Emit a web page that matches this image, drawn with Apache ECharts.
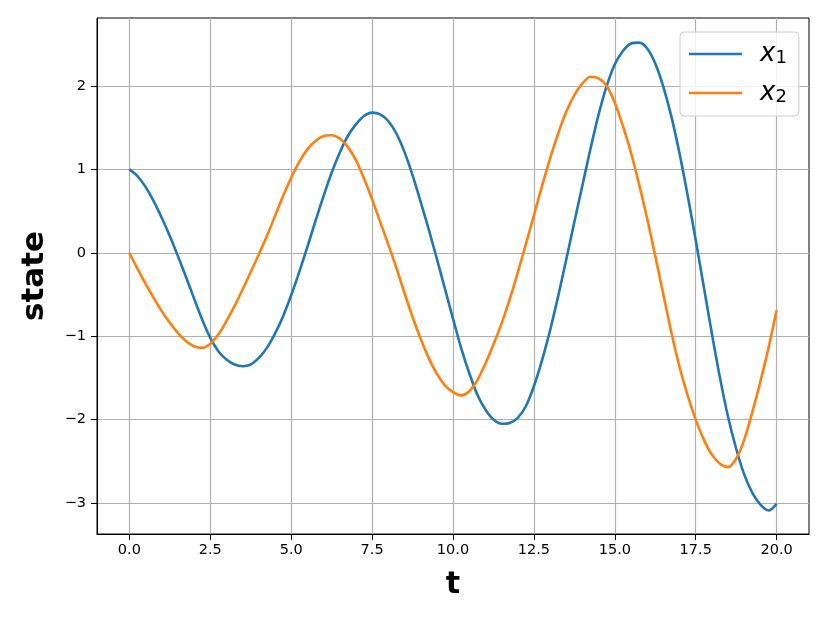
<!DOCTYPE html>
<html>
<head>
<meta charset="utf-8">
<script src="https://cdn.jsdelivr.net/npm/echarts@6/dist/echarts.min.js"></script>
<style>
html,body{margin:0;padding:0;background:#fff;}
#chart{width:830px;height:623px;}
</style>
</head>
<body>
<div id="chart"></div>
<script>
// time samples
const t = [0,0.25,0.5,0.75,1,1.25,1.5,1.75,2,2.25,2.5,2.75,3,3.25,3.5,3.75,4,4.25,4.5,4.75,
5,5.25,5.5,5.75,6,6.25,6.5,6.75,7,7.25,7.5,7.75,8,8.25,8.5,8.75,9,9.25,9.5,9.75,
10,10.25,10.5,10.75,11,11.25,11.5,11.75,12,12.25,12.5,12.75,13,13.25,13.5,13.75,14,14.25,14.5,14.75,
15,15.25,15.5,15.75,16,16.25,16.5,16.75,17,17.25,17.5,17.75,18,18.25,18.5,18.75,19,19.25,19.5,19.75,20];

// state x1 (blue)
const x1 = [1.00,0.92,0.79,0.62,0.42,0.20,-0.04,-0.29,-0.55,-0.80,-1.02,-1.18,-1.28,-1.34,-1.36,-1.34,-1.26,-1.14,-0.97,-0.76,
-0.51,-0.23,0.07,0.38,0.68,0.96,1.20,1.40,1.54,1.64,1.68,1.66,1.58,1.43,1.21,0.93,0.61,0.28,-0.07,-0.43,
-0.79,-1.14,-1.44,-1.70,-1.88,-2.00,-2.05,-2.04,-1.98,-1.84,-1.60,-1.29,-0.93,-0.52,-0.08,0.37,0.81,1.25,1.66,2.00,
2.26,2.42,2.51,2.52,2.45,2.27,1.99,1.63,1.19,0.69,0.15,-0.41,-0.97,-1.50,-1.97,-2.35,-2.66,-2.88,-3.02,-3.09,-3.01];

// state x2 (orange)
const x2 = [0.00,-0.19,-0.37,-0.54,-0.70,-0.84,-0.96,-1.06,-1.12,-1.14,-1.09,-0.98,-0.82,-0.64,-0.44,-0.23,-0.02,0.20,0.44,0.68,
0.90,1.09,1.24,1.34,1.40,1.41,1.37,1.27,1.11,0.89,0.64,0.37,0.10,-0.18,-0.48,-0.77,-1.03,-1.26,-1.45,-1.59,
-1.67,-1.71,-1.66,-1.53,-1.33,-1.10,-0.85,-0.56,-0.24,0.10,0.45,0.80,1.13,1.43,1.69,1.89,2.03,2.11,2.09,2.00,
1.80,1.52,1.20,0.82,0.41,-0.04,-0.50,-0.96,-1.37,-1.71,-2.00,-2.24,-2.42,-2.53,-2.57,-2.47,-2.24,-1.91,-1.54,-1.14,-0.69];

const xTicks = [0,2.5,5,7.5,10,12.5,15,17.5,20];
const yTicks = [-3,-2,-1,0,1,2];
const seriesNames = ['x\u2081','x\u2082'];
const xLabel = 't';
const yLabel = 'state';

const FONT = 'DejaVu Sans';
const chart = echarts.init(document.getElementById('chart'), null, {renderer:'canvas'});
const fmtY = v => v < 0 ? '\u2212' + Math.abs(v) : String(v);

chart.setOption({
  animation: false,
  backgroundColor: '#fff',
  grid: {left: 97, top: 18, width: 712, height: 516, show: true, borderColor: '#000', borderWidth: 1, backgroundColor: 'transparent'},
  xAxis: {
    type: 'value', min: -1, max: 21,
    name: xLabel, nameLocation: 'middle', nameGap: 36,
    nameTextStyle: {fontFamily: FONT, fontWeight: 'bold', fontSize: 30, color: '#000'},
    axisLine: {show: true, onZero: false, lineStyle: {color: '#000', width: 1}},
    axisTick: {show: true, length: 6, inside: false, customValues: xTicks, lineStyle: {color: '#000', width: 1}},
    axisLabel: {customValues: xTicks, formatter: v => v.toFixed(1), fontFamily: FONT, fontSize: 14.5, color: '#000', margin: 9},
    splitLine: {show: true, lineStyle: {color: '#b0b0b0', width: 1.2}}
  },
  yAxis: {
    type: 'value', min: -3.372, max: 2.815,
    name: yLabel, nameLocation: 'middle', nameGap: 47, nameRotate: 90,
    nameTextStyle: {fontFamily: FONT, fontWeight: 'bold', fontSize: 31, color: '#000'},
    axisLine: {show: true, onZero: false, lineStyle: {color: '#000', width: 1}},
    axisTick: {show: true, length: 6, inside: false, customValues: yTicks, lineStyle: {color: '#000', width: 1}},
    axisLabel: {customValues: yTicks, formatter: fmtY, fontFamily: FONT, fontSize: 14.5, color: '#000', margin: 11},
    splitLine: {show: true, lineStyle: {color: '#b0b0b0', width: 1.2}}
  },
  legend: {
    show: true, orient: 'vertical', left: 680, top: 32,
    data: seriesNames.map(n => ({name: n, icon: 'rect'})),
    itemWidth: 53, itemHeight: 2.6, itemGap: 11,
    padding: [7, 12, 10, 9],
    backgroundColor: 'rgba(255,255,255,0.8)', borderColor: '#cccccc', borderWidth: 1, borderRadius: 4,
    formatter: name => '{i|x}{s|' + (name === seriesNames[0] ? '1' : '2') + '}',
    textStyle: {
      padding: [0, 0, 0, 13],
      rich: {
        i: {fontFamily: FONT, fontStyle: 'italic', fontSize: 26, color: '#000', lineHeight: 26, verticalAlign: 'middle'},
        s: {fontFamily: FONT, fontSize: 18, color: '#000', lineHeight: 26, verticalAlign: 'bottom', padding: [10, 0, 0, 0]}
      }
    }
  },
  series: [
    {name: seriesNames[0], type: 'line', data: t.map((v, i) => [v, x1[i]]), symbol: 'none', smooth: 0.3,
     lineStyle: {color: '#1f77b4', width: 2.6}, itemStyle: {color: '#1f77b4'}, z: 3},
    {name: seriesNames[1], type: 'line', data: t.map((v, i) => [v, x2[i]]), symbol: 'none', smooth: 0.3,
     lineStyle: {color: '#ff7f0e', width: 2.6}, itemStyle: {color: '#ff7f0e'}, z: 4}
  ]
});
</script>
</body>
</html>
